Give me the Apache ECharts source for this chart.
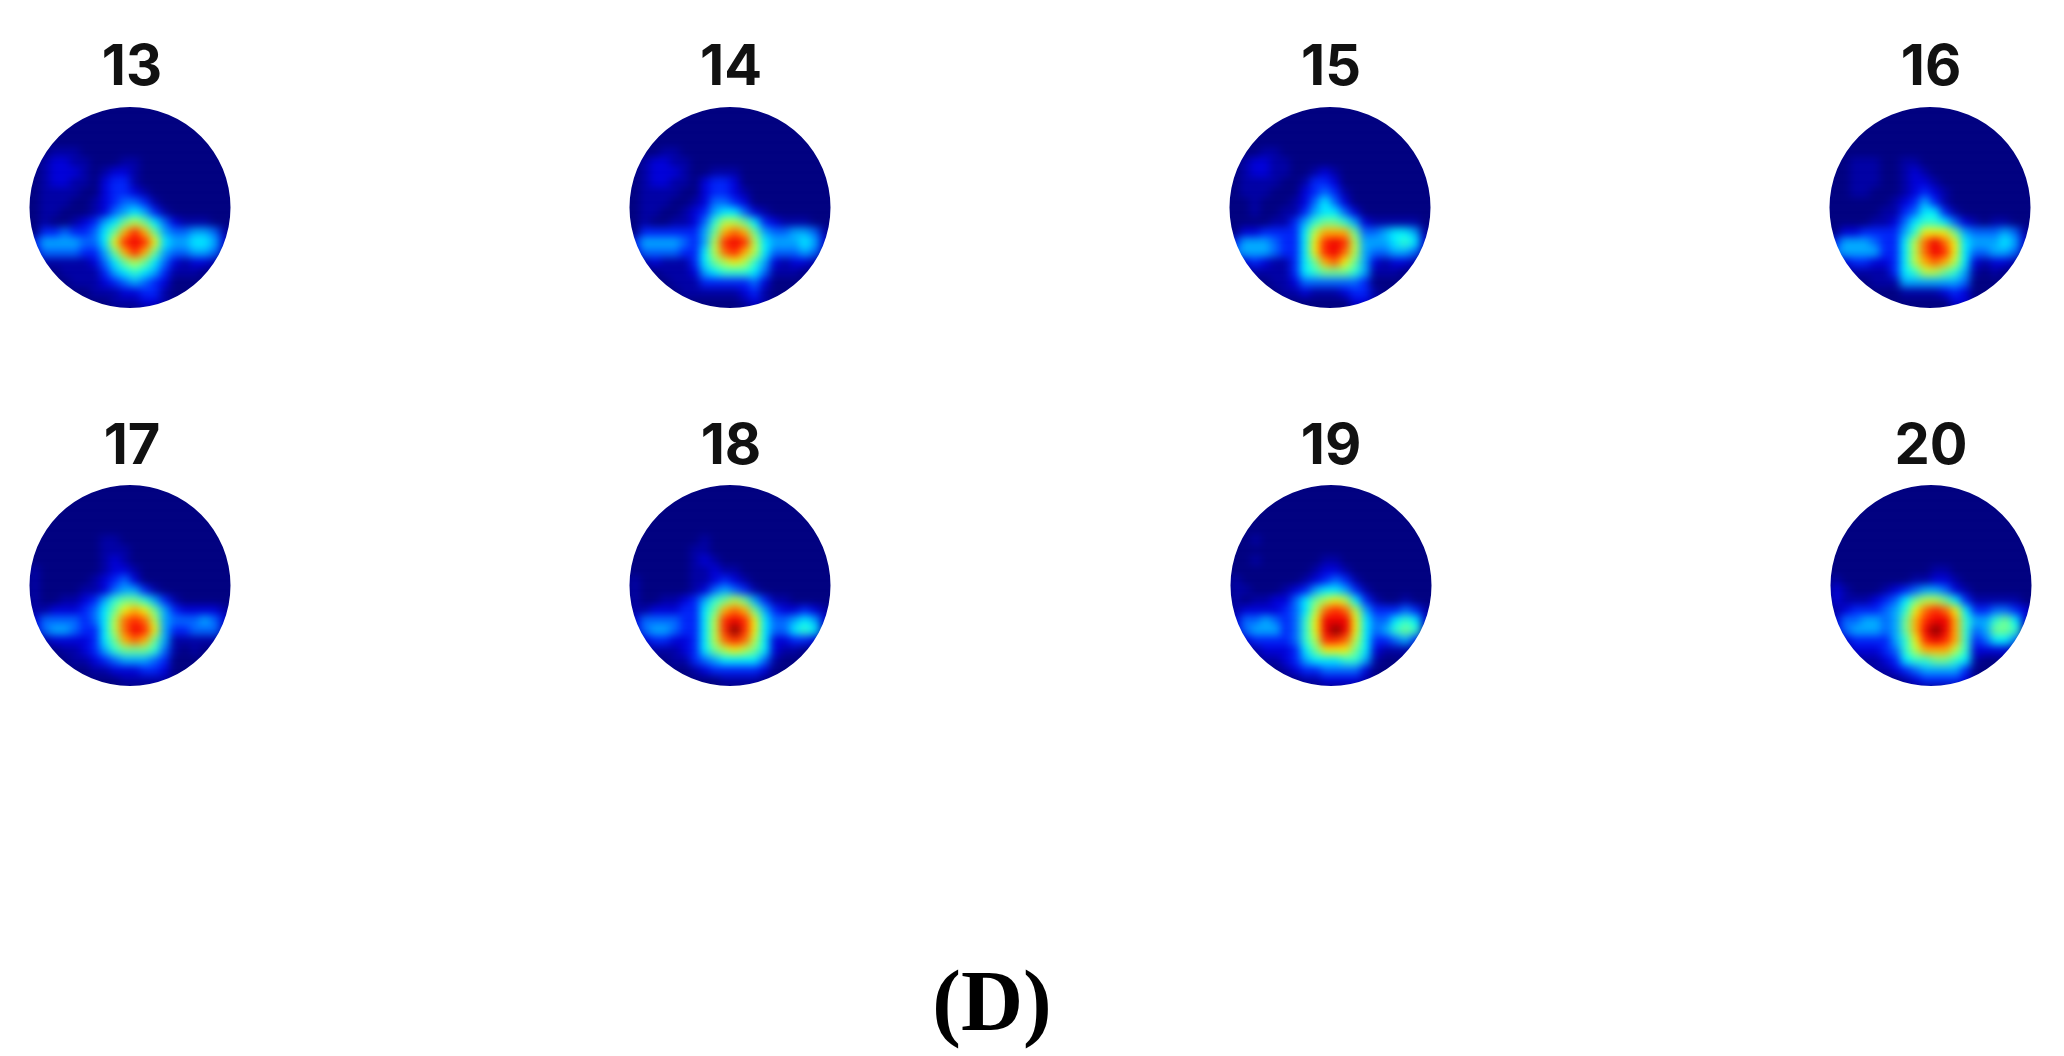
<!DOCTYPE html>
<html>
<head>
<meta charset="utf-8">
<title>(D)</title>
<script src="https://cdn.jsdelivr.net/npm/echarts@6/dist/echarts.min.js"></script>
<style>
    html, body { margin: 0; padding: 0; background: #fff; }
    #heat, #main { position: absolute; left: 0; top: 0; width: 2064px; height: 1056px; }
    #heat { filter: blur(4.5px); }
    #main { filter: blur(0.6px); }
</style>
</head>
<body>
<div id="heat"></div>
<div id="main"></div>
<script>
    // values, one hex digit per cell (0 = navy ... f = dark red)
    var panel13 = [
        "0000000000000000000000","0000000000000000000000","0000000000000000000000","0000000000000000000000","0000000000000000000000",
        "0001110000000000000000","0012211000110000000000","0012221012210000000000","0012211023310000000000","0011110023321000000000",
        "0011100123443100000000","0011000124565310000000","0010012356898642111000","0033433468bdb854455410","035555446adeda65566520",
        "0244443358bdb854455410","0011111246898642122100","0000111135676531110000","0000011123454320000000","0000000111223310000000",
        "0000000001112210000000","0000000000000000000000"
    ];
    var panel14 = [
        "0000000000000000000000","0000000000000000000000","0000000000000000000000","0000000000000000000000","0000000000000000000000",
        "0000110000000000000000","0012211000000000000000","0012221001110000000000","0012211023320000000000","0011110023321000000000",
        "0011100124432000000000","0011001235664210000000","0010011247998632111000","0033333358bcb854455410","0355554359ded965556520",
        "0244443369cdb964445410","00121113689a9752122100","0000111256777641110000","0000011133333420000000","0000001111112310000000",
        "0000000000001210000000","0000000000000000000000"
    ];
    var panel15 = [
        "0000000000000000000000","0000000000000000000000","0000000000000000000000","0000000000000000000000","0000000000000000000000",
        "0000110000000000000000","0012211000000000000000","0012211001210000000000","0011110013320000000000","0011100023431000000000",
        "0001000124642000000000","0001001135664200000000","0000011357887521111100","0022333369bbb844566510","035554336aded955567620",
        "045554336adec954455410","0023211368bca852122100","0001111367888751110000","0000011244444430000000","0000001121112331000000",
        "0000000000000221000000","0000000000000000000000"
    ];
    var panel16 = [
        "0000000000000000000000","0000000000000000000000","0000000000000000000000","0000000000000000000000","0000000000000000000000",
        "0000000000000000000000","0001110011000000000000","0001110012100000000000","0001110012210000000000","0001100012321000000000",
        "0000000123531000000000","0000001134663100000000","0000011246776421011000","0022333357aaa854445410","0355543369ceca65556520",
        "0455553369ceda64455410","0023322369bcb962122100","0001111367998751010000","0000011155555540000000","0000000011112320000000",
        "0000000000000220000000","0000000000000000000000"
    ];
    var panel17 = [
        "0000000000000000000000","0000000000000000000000","0000000000000000000000","0000000000000000000000","0000000000000000000000",
        "0000000000000000000000","0000000011000000000000","0000000011100000000000","0000000012100000000000","0100000012210000000000",
        "0100000123420000000000","0100001124553100000000","0100112357887531000000","0112223468aba853222210","0244443469cdc954445420",
        "0245543369ceda53344410","0012222368bcb851111100","0000112357888741010000","0000011234555430000000","0000000112223320000000",
        "0000000000111110000000","0000000000000000000000"
    ];
    var panel18 = [
        "0000000000000000000000","0000000000000000000000","0000000000000000000000","0000000000000000000000","0000000000000000000000",
        "0000000000000000000000","0000000010000000000000","0000000110000000000000","0000000121000000000000","0000000112110000000000",
        "0100000112321000000000","0100000124543100000000","0100112357898531100000","0112223368bcb853223210","0244443369deda64456520",
        "0245543369dfda64467610","0023322369cdc962233200","00011123689a9862110000","0000011345666641000000","0000000123333320000000",
        "0000000000111100000000","0000000000000000000000"
    ];
    var panel19 = [
        "0000000000000000000000","0000000000000000000000","0000000000000000000000","0000000000000000000000","0000000000000000000000",
        "0000000000000000000000","0001000000000000000000","0000000000000000000000","0001000000110000000000","0000000001221000000000",
        "0100000012343100000000","0110001235665310000000","01011224689a9631001000","0122223469cdc953334310","024454347aeeea64467620",
        "024555347aefea64578710","0023333479ddc963345300","0001222368aaa862111000","0000112356667751000000","0000001233444420000000",
        "0000000011222210000000","0000000000000000000000"
    ];
    var panel20 = [
        "0000000000000000000000","0000000000000000000000","0000000000000000000000","0000000000000000000000","0000000000000000000000",
        "0000000000000000000000","0000000000000000000000","0000000000000000000000","0000000000000000000000","0000000000011000000000",
        "0100000001122100000000","0210001234554210000000","0211123468998631111100","012333457acdca63344320","024455458bdeeb75578620",
        "024555458befeb74588710","002333357adedb73466400","0002223479bbb972222000","0000112367788761000000","0000011234555530000000",
        "0000000012333320000000","0000000000000000000000"
    ];
    var panels = [panel13, panel14, panel15, panel16, panel17, panel18, panel19, panel20];
    var panelNames = ['13', '14', '15', '16', '17', '18', '19', '20'];
    var jetColors = ['#000080', '#0000a4', '#0000d8', '#0024f8', '#0068ff', '#00a8ff', '#00ecff', '#30ffd0',
        '#70ff90', '#b8ff48', '#f0f010', '#ffb000', '#ff6800', '#ff2800', '#ee0000', '#800000'];

    // layout in pixels
    var centerX = [130, 730, 1330, 1930, 130, 730, 1331, 1931];
    var centerY = [207.5, 207.5, 207.5, 207.5, 585.5, 585.5, 585.5, 585.5];
    var labelX = [132, 731, 1331, 1931, 132, 731, 1331, 1931];
    var labelY = [64, 64, 64, 64, 443, 443, 443, 443];
    var half = 110;
    var cells = [];
    for (var c = 0; c < 22; c++) { cells.push(c); }

    function cellData(rows) {
        var out = [];
        rows.forEach(function (row, r) {
            row.split('').forEach(function (ch, k) {
                out.push([k, r, parseInt(ch, 16)]);
            });
        });
        return out;
    }

    var heatChart = echarts.init(document.getElementById('heat'));
    var grids = [], xAxes = [], yAxes = [], series = [];
    panels.forEach(function (rows, i) {
        grids.push({left: centerX[i] - half, top: centerY[i] - half, width: half * 2, height: half * 2});
        xAxes.push({type: 'category', gridIndex: i, data: cells, show: false});
        yAxes.push({type: 'category', gridIndex: i, data: cells, show: false, inverse: true});
        series.push({
            name: panelNames[i],
            type: 'heatmap',
            xAxisIndex: i,
            yAxisIndex: i,
            silent: true,
            progressive: 0,
            data: cellData(rows)
        });
    });
    heatChart.setOption({
        animation: false,
        grid: grids,
        xAxis: xAxes,
        yAxis: yAxes,
        visualMap: {
            show: false,
            min: 0,
            max: 15,
            inRange: {color: jetColors}
        },
        series: series
    });

    // sharp layer on top: the white ring cuts each map to a circle, then the labels
    var myChart = echarts.init(document.getElementById('main'));
    var titles = panelNames.map(function (name, i) {
        return {
            text: name,
            left: labelX[i],
            top: labelY[i] - 24,
            padding: 0,
            textAlign: 'center',
            textStyle: {color: '#111', fontFamily: 'Inter', fontWeight: 'bold', fontSize: 56}
        };
    });
    titles.push({
        text: '{p|(}{d|D}{p|)}',
        left: 992,
        top: 965,
        padding: 0,
        textAlign: 'center',
        textStyle: {
            rich: {
                p: {color: '#000', fontFamily: 'Liberation Serif', fontSize: 86},
                d: {color: '#000', fontFamily: 'Liberation Serif', fontWeight: 'bold', fontSize: 86}
            }
        }
    });
    var rings = panels.map(function (rows, i) {
        return {
            type: 'ring',
            silent: true,
            z: 0,
            shape: {cx: centerX[i], cy: centerY[i], r: 172, r0: 100.5},
            style: {fill: '#fff'}
        };
    });
    myChart.setOption({
        animation: false,
        title: titles,
        graphic: {elements: rings}
    });
</script>
</body>
</html>
